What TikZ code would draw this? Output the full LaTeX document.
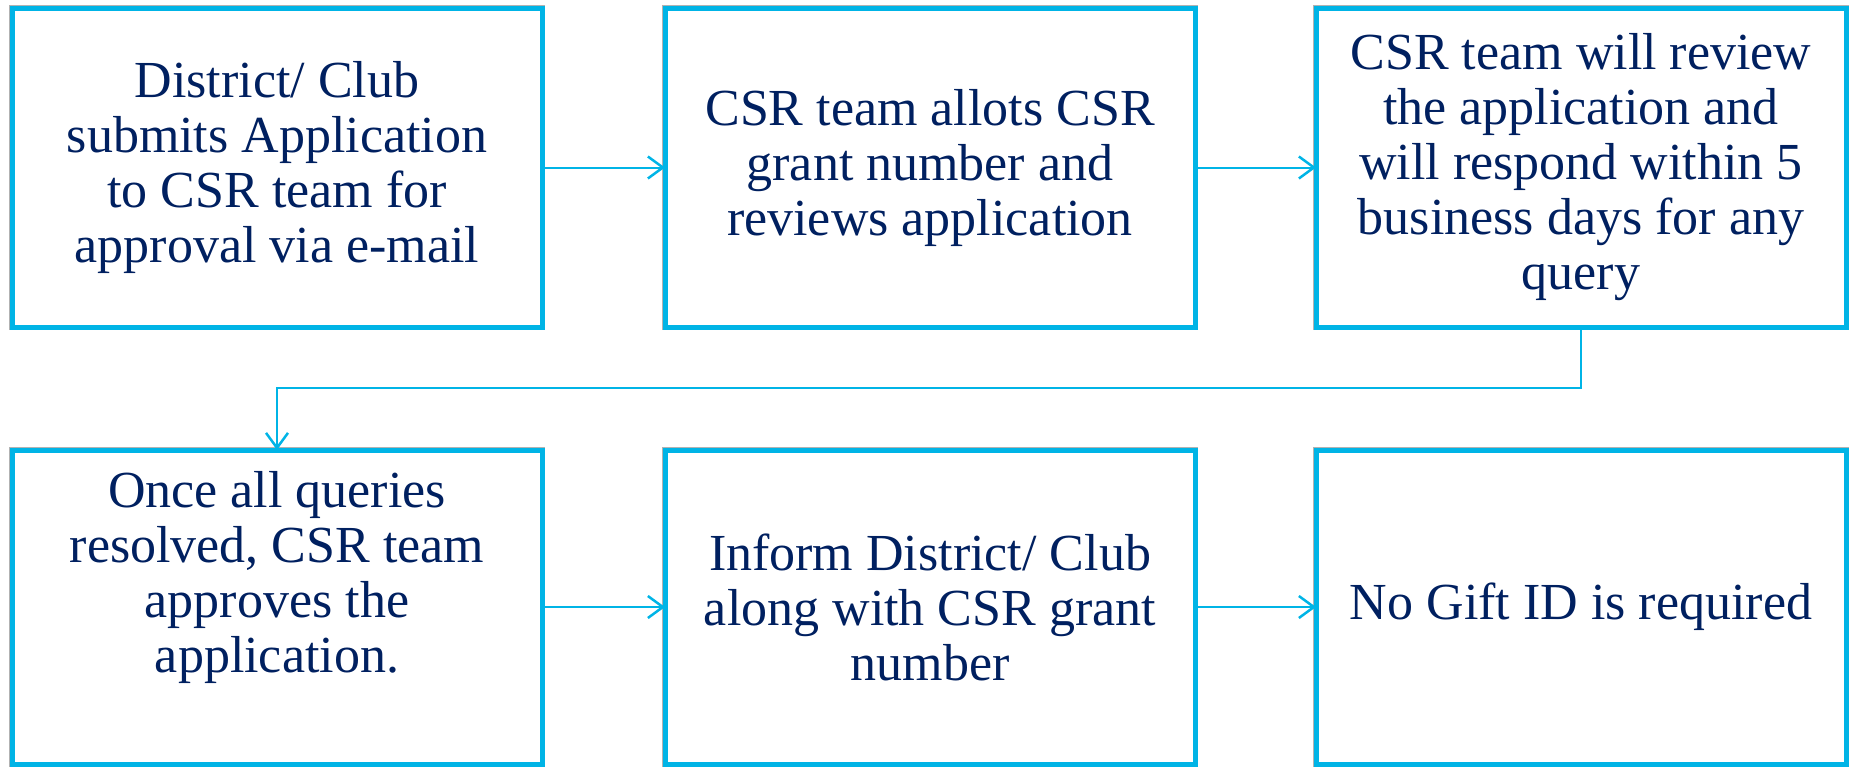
\documentclass[tikz,border=0pt]{standalone}
\usepackage{fontspec}
\setmainfont{Liberation Serif}
\usetikzlibrary{arrows.meta}
\definecolor{boxblue}{HTML}{00B4E6}
\definecolor{navy}{HTML}{002060}
\tikzset{
  stepbox/.style={draw=boxblue, line width=5pt, fill=white, minimum width=530pt,
    preaction={draw=black!30, line width=6.5pt},
    inner sep=0pt, outer sep=0pt, text=navy, align=center,
    font=\fontsize{52}{55}\selectfont},
  toprow/.style={stepbox, minimum height=319pt},
  botrow/.style={stepbox, minimum height=314pt},
  txt/.style={text=navy, align=center, inner sep=0pt, font=\fontsize{52}{55}\selectfont},
  conn/.style={draw=boxblue, line width=2pt, -{Straight Barb[length=15pt,width=22pt,line width=2.5pt]}},
}
\begin{document}
\begin{tikzpicture}[x=1pt,y=-1pt]
\useasboundingbox (0,0) rectangle (1854,766);
\node[toprow] (b1) at (277,167.5) {District/ Club\\submits Application\\to CSR team for\\approval via e-mail};
\node[toprow] (b2) at (930,167.5) {CSR team allots CSR\\grant number and\\reviews application};
\node[toprow] (b3) at (1581,167.5) {CSR team will review\\the application and\\will respond within 5\\business days for any\\query};
\node[botrow] (b4) at (277,607) {};
\node[txt] (t4) at (277,577) {Once all queries\\resolved, CSR team\\approves the\\application.};
\node[botrow] (b5) at (930,607) {Inform District/ Club\\along with CSR grant\\number};
\node[botrow] (b6) at (1581,607) {No Gift ID is required};
\coordinate (e1) at (1581,388);
\coordinate (e2) at (277,388);
\draw[conn] (b1.east) -- (b2.west);
\draw[conn] (b2.east) -- (b3.west);
\draw[conn] (b3.south) -- (e1) -- (e2) -- (b4.north);
\draw[conn] (b4.east) -- (b5.west);
\draw[conn] (b5.east) -- (b6.west);
\end{tikzpicture}
\end{document}
